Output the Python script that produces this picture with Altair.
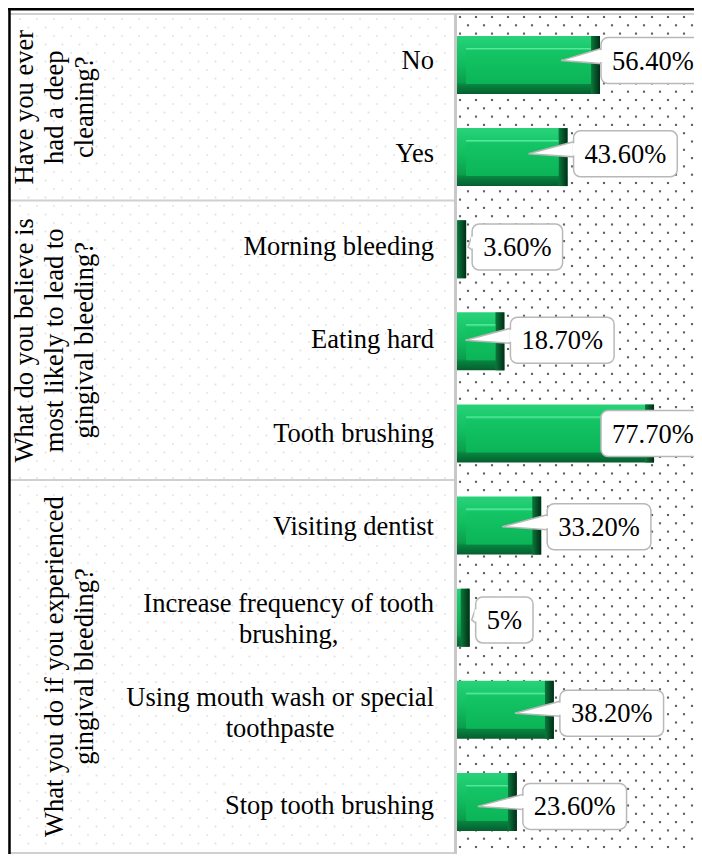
import altair as alt
import pandas as pd

# ---------------- data ----------------
groups = ["Have you ever\nhad a deep\ncleaning?",
          "What do you believe is\nmost likely to lead to\ngingival bleeding?",
          "What you do if you experienced\ngingival bleeding?"]
group_sizes = [2, 3, 4]
categories = ["No", "Yes", "Morning bleeding", "Eating hard", "Tooth brushing",
              "Visiting dentist", "Increase frequency of tooth\nbrushing,",
              "Using mouth wash or special\ntoothpaste", "Stop tooth brushing"]
values = [56.4, 43.6, 3.6, 18.7, 77.7, 33.2, 5.0, 38.2, 23.6]
value_labels = ["56.40%", "43.60%", "3.60%", "18.70%", "77.70%",
                "33.20%", "5%", "38.20%", "23.60%"]

# ---------------- layout ----------------
FONT = "Liberation Serif"
FS = 26.5
LW, RW, H = 449, 237, 846
W = LW + RW
ROW_TOP, ROW_BOT = 6, 845
N = len(categories)
STEP = (ROW_BOT - ROW_TOP) / N
Y0 = -0.5 - ROW_TOP / STEP
Y1 = N - 0.5 + (H - ROW_BOT) / STEP
K = 2.536                # px per percent
XMAX = RW / K
LABEL_RIGHT = 426
GROUP_X = [17, 17, 47]   # x of first text line of each rotated group label
BAR_H = 58
BEV = 9
BOX_H = 46
BOX_CAP = 144
GRAY = "#b8b8b8"

CW = {' ': 250, '%': 833, ',': 250, '.': 250, '?': 444,
      'a': 444, 'b': 500, 'c': 444, 'd': 500, 'e': 444, 'f': 333, 'g': 500,
      'h': 500, 'i': 278, 'j': 278, 'k': 500, 'l': 278, 'm': 778, 'n': 500,
      'o': 500, 'p': 500, 'q': 500, 'r': 333, 's': 389, 't': 278, 'u': 500,
      'v': 500, 'w': 722, 'x': 500, 'y': 500, 'z': 444,
      'I': 333, 'U': 722, 'S': 556, 'M': 889, 'E': 611, 'T': 611, 'V': 722,
      'W': 944, 'N': 722, 'Y': 722, 'H': 722}


def text_w(s, fs=FS):
    return sum(CW.get(ch, 500) for ch in s) / 1000 * fs


def dy(px):
    return px / STEP


def dx(px):
    return px / K


rows = []
for i, (c, v, lab) in enumerate(zip(categories, values, value_labels)):
    end = v * K
    bw = text_w(lab) + 22
    bl = min(end + 6, BOX_CAP)
    tip = end - 39 if end > 45 else end + 2
    lines = c.split("\n")
    rows.append(dict(
        idx=i, cat=c, value=v, label=lab,
        multi=len(lines) > 1,
        lx=LABEL_RIGHT - max(text_w(t) for t in lines) / 2,
        box_l=dx(bl), box_r=dx(bl + bw), text_x=dx(bl + bw / 2),
        by1=i - dy(BOX_H / 2), by2=i + dy(BOX_H / 2),
        show=tip < bl - 2, inner=end > 2 * BEV + 2,
        cov_l=dx(bl - 1.2), cov_r=dx(bl + 2.5),
        cy1=i - dy(10.5), cy2=i + dy(1.5),
        tip=dx(tip), base=dx(bl),
    ))
df = pd.DataFrame(rows)

ptr = []
for r in rows:
    if r["show"]:
        ptr.append(dict(id=r["idx"], x=r["tip"], y=r["idx"], y2=r["idx"]))
        ptr.append(dict(id=r["idx"], x=r["base"], y=r["idx"] - dy(12), y2=r["idx"] + dy(3)))
ptr_df = pd.DataFrame(ptr)

gdf = []
start = 0
for g, n, gx in zip(groups, group_sizes, GROUP_X):
    gdf.append(dict(group=g, gy=start + (n - 1) / 2, gx=gx))
    start += n
gdf = pd.DataFrame(gdf)

bounds = [-0.5]
s = -0.5
for n in group_sizes:
    s += n
    bounds.append(s)
bdf = pd.DataFrame({"b": bounds})

yscale = alt.Scale(domain=[Y0, Y1], reverse=True, nice=False, zero=False)
xscale = alt.Scale(domain=[0, XMAX], range=[LW, W], nice=False, zero=True)


def grad(stops, horizontal=False):
    return alt.LinearGradient(
        gradient="linear",
        stops=[alt.GradientStop(color=c, offset=o) for o, c in stops],
        x1=0, y1=0, x2=1 if horizontal else 0, y2=0 if horizontal else 1)


one = pd.DataFrame({"z": [0]})

# ---------------- left (label) area ----------------
ldots = alt.Chart(alt.sequence(0, 27 * 100, as_="i")).transform_calculate(
    r="floor(datum.i / 27)", c="datum.i % 27"
).transform_calculate(
    px="12 + datum.c * 17 + (datum.r % 2) * 8.5", py="11 + datum.r * 8.5"
).transform_filter(f"datum.px < {LW - 4} && datum.py < {H - 2}").mark_square(
    size=3, color="#d2d2d2"
).encode(x=alt.X("px:Q", scale=None), y=alt.Y("py:Q", scale=None))

lgray = alt.Chart(bdf).mark_rule(color="#d0d0d0", strokeWidth=2).encode(
    y=alt.Y("b:Q", scale=yscale, axis=None), x=alt.value(0), x2=alt.value(LW))

top_black = alt.Chart(one).mark_rule(color="black", strokeWidth=2.5).encode(
    x=alt.value(0), x2=alt.value(W), y=alt.value(1.25))
left_black = alt.Chart(one).mark_rule(color="black", strokeWidth=2.5).encode(
    x=alt.value(1.5), y=alt.value(0), y2=alt.value(H))
sep = alt.Chart(one).mark_rule(color="#c8c8c8", strokeWidth=3).encode(
    x=alt.value(LW - 1.5), y=alt.value(ROW_TOP - 1), y2=alt.value(H))

cat_single = alt.Chart(df).transform_filter("!datum.multi").mark_text(
    font=FONT, fontSize=FS, align="right", baseline="middle", color="black"
).encode(x=alt.value(LABEL_RIGHT), y=alt.Y("idx:Q", scale=yscale, axis=None), text="cat:N")

cat_multi = alt.Chart(df).transform_filter("datum.multi").mark_text(
    font=FONT, fontSize=FS, align="center", baseline="middle", color="black",
    lineBreak="\n", lineHeight=31, dy=-15.5
).encode(x=alt.X("lx:Q", scale=None), y=alt.Y("idx:Q", scale=yscale, axis=None), text="cat:N")

gtext = alt.Chart(gdf).mark_text(
    font=FONT, fontSize=FS, align="center", baseline="middle", color="black",
    angle=270, lineBreak="\n", lineHeight=30
).encode(x=alt.X("gx:Q", scale=None), y=alt.Y("gy:Q", scale=yscale, axis=None), text="group:N")

# ---------------- right (bar) area ----------------
rdots = alt.Chart(alt.sequence(0, 16 * 103, as_="i")).transform_calculate(
    r="floor(datum.i / 16)", c="datum.i % 16"
).transform_calculate(
    px=f"{LW + 3} + datum.c * 16 + (datum.r % 2) * 8", py="9 + datum.r * 8.3"
).transform_filter(f"datum.px < {W - 1} && datum.py < {H - 1}").mark_square(
    size=4.5, color="#1e1e1e"
).encode(x=alt.X("px:Q", scale=None), y=alt.Y("py:Q", scale=None))

rgray = alt.Chart(pd.DataFrame({"b": [-0.5]})).mark_rule(color="#d0d0d0", strokeWidth=2).encode(
    y=alt.Y("b:Q", scale=yscale, axis=None), x=alt.value(LW), x2=alt.value(W))

X = alt.X("value:Q", scale=xscale, axis=None)
Y = alt.Y("idx:Q", scale=yscale, axis=None)

outer = alt.Chart(df).transform_calculate(zero="0").mark_bar(
    height=BAR_H,
    fill=grad([(0, "#2ad27a"), (0.18, "#1ccb6e"), (0.5, "#10bb5c"), (0.8, "#0b9e4d"),
               (0.84, "#07843f"), (1, "#055e2e")])
).encode(x=X, x2="zero:Q", y=Y)

rbevel = alt.Chart(df).mark_bar(
    height=BAR_H, x2Offset=-BEV,
    fill=grad([(0, "#0a7a3c"), (1, "#022c15")], horizontal=True)
).encode(x=X, x2="value:Q", y=Y)

face = alt.Chart(df).transform_filter("datum.inner").transform_calculate(zero="0").mark_bar(
    height=BAR_H - 22, yOffset=1, xOffset=-BEV, x2Offset=BEV,
    fill=grad([(0, "#66f0a8"), (0.07, "#14c565"), (1, "#0bb557")])
).encode(x=X, x2="zero:Q", y=Y)

pointer = alt.Chart(ptr_df).mark_area(
    orient="vertical", fill="white", stroke=GRAY, strokeWidth=1.5
).encode(x=alt.X("x:Q", scale=xscale, axis=None),
         y=alt.Y("y:Q", scale=yscale, axis=None), y2="y2:Q", detail="id:N")

box = alt.Chart(df).mark_rect(
    fill="white", stroke=GRAY, strokeWidth=1.5, cornerRadius=7
).encode(x=alt.X("box_l:Q", scale=xscale, axis=None), x2="box_r:Q",
         y=alt.Y("by1:Q", scale=yscale, axis=None), y2="by2:Q")

cover = alt.Chart(df).transform_filter("datum.show").mark_rect(fill="white").encode(
    x=alt.X("cov_l:Q", scale=xscale, axis=None), x2="cov_r:Q",
    y=alt.Y("cy1:Q", scale=yscale, axis=None), y2="cy2:Q")

vtext = alt.Chart(df).mark_text(
    font=FONT, fontSize=FS, align="center", baseline="middle", color="black", dy=1
).encode(x=alt.X("text_x:Q", scale=xscale, axis=None), y=Y, text="label:N")

chart = alt.layer(
    ldots, rdots, lgray, rgray, sep, top_black, left_black,
    cat_single, cat_multi, gtext,
    outer, rbevel, face, pointer, box, cover, vtext
).resolve_scale(x="independent", y="independent").properties(
    width=W, height=H, padding=0, autosize=alt.AutoSizeParams(type="none")
).configure_view(stroke=None).configure(background="white")

chart.save("out.html", embed_options={"renderer": "svg", "actions": False})
